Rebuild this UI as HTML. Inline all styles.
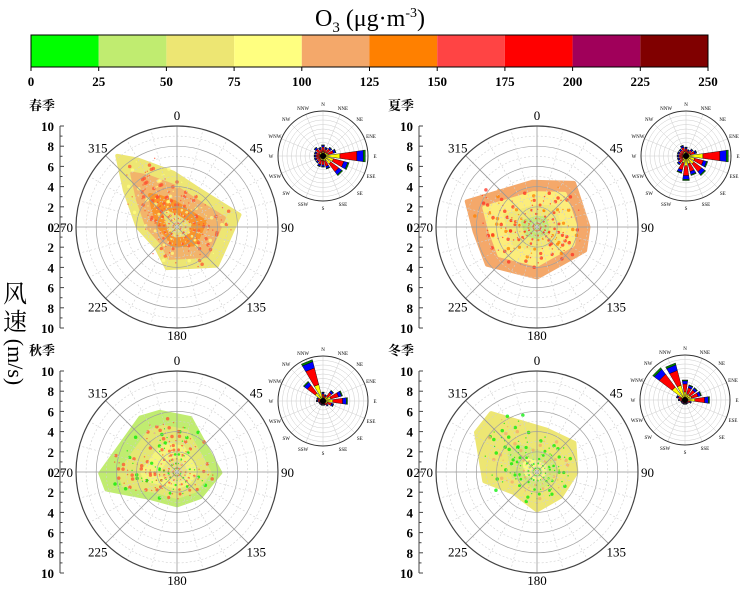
<!DOCTYPE html>
<html><head><meta charset="utf-8"><style>
html,body{margin:0;padding:0;background:#fff;width:748px;height:589px;overflow:hidden}
svg{display:block;font-family:"Liberation Serif","Noto Serif CJK SC",serif}
</style></head><body>
<svg id="c" width="748" height="589" viewBox="0 0 748 589"></svg>
<script>
const cbBreaks=[0,25,50,75,100,125,150,175,200,225,250];
const cbColors=["#00ff00","#c0ec70","#ede673","#ffff80","#f4a86a","#ff8000","#ff4444","#ff0000","#a0005a","#800000"];
const dirLabels=["N","NNE","NE","ENE","E","ESE","SE","SSE","S","SSW","SW","WSW","W","WNW","NW","NNW"];
const angleLabels=[0,45,90,135,180,225,270,315];
const speedTicks=[10,8,6,4,2,0,2,4,6,8,10];
const seasonNames=["春季","夏季","秋季","冬季"];
// hulls: [angle deg, speed m/s]
const hullSpring=[[320,9.2],[330,7.7],[356,5.4],[32,4.3],[79,6.3],[108,5.2],[134,5.5],[194,4.2],[224,2.9],[270,3.9],[305,6.3]];
const hullSummer=[[290,7.4],[354,4.5],[40,5.7],[90,5.1],[116,5.3],[129,4.7],[180,5.0],[233,6.2],[266,6.2]];
const hullAutumn=[[269,7.6],[326,6.5],[344,6.2],[14,5.5],[91,4.3],[137,3.4],[180,3.3],[226,3.7],[256,7.2]];
const hullWinter=[[303,7.2],[322,7.4],[13,4.3],[52,4.7],[91,3.9],[136,3.4],[180,3.8],[228,3.1],[260,5.3]];
// wind rose totals per direction (ring units 0-10)
const roseSpring=[2.5,2,2.5,3,9.5,6,5.5,3,2.5,2.5,2,2,2,2,2.5,2];
const roseSummer=[2,1.5,2,2.5,9.5,5,5.5,4.5,5.5,4,2.5,2,2,2,2,2.5];
const roseAutumn=[2,1.5,3,4.5,5.5,2.5,1.5,1,1,1,1,1,1.5,1.5,5.5,9.5];
const roseWinter=[4.5,3.5,3.5,3.8,5.5,1.5,1,1,1,1,1,1,1.5,2,9,8.5];
const NS="http://www.w3.org/2000/svg";
const svg=document.getElementById('c');
function mk(t,a,p){const e=document.createElementNS(NS,t);for(const k in a)e.setAttribute(k,a[k]);(p||svg).appendChild(e);return e;}
const tt=mk('text',{x:370,y:26,'font-size':24,'text-anchor':'middle'});


tt.innerHTML='O<tspan font-size="15" dy="6">3</tspan><tspan dy="-6"> (μg·m</tspan><tspan font-size="14" dy="-9">-3</tspan><tspan dy="9">)</tspan>';
const cbX=31,cbW=677,cbY=35,cbH=32;
const cbx=v=>cbX+v/250*cbW;
for(let i=0;i<cbColors.length;i++){
 const r=mk('rect',{x:cbx(cbBreaks[i]),y:cbY,width:cbx(cbBreaks[i+1])-cbx(cbBreaks[i]),height:cbH,fill:cbColors[i]});
 
 
}
mk('rect',{x:cbX,y:cbY,width:cbW,height:cbH,fill:'none',stroke:'#000','stroke-width':1});
cbBreaks.forEach(v=>{mk('line',{x1:cbx(v),y1:cbY+cbH,x2:cbx(v),y2:cbY+cbH+4,stroke:'#000'});
 const t=mk('text',{x:cbx(v),y:86,'font-size':13,'font-weight':'bold','text-anchor':'middle'});t.textContent=v;
 
 });
const yt=mk('text',{x:15,y:302,'font-size':24,'text-anchor':'middle'});yt.textContent='风';


mk('text',{x:15,y:330,'font-size':24,'text-anchor':'middle'}).textContent='速';
mk('text',{x:0,y:0,'font-size':22,'text-anchor':'middle',transform:'translate(8,362) rotate(90)'}).textContent='(m/s)';

const R=101;
function panel(cx,cy,ax,hull,name,nx,ny,rose,rcx,rcy,pal){
 const g=mk('g',{});
 
 
 const nm=mk('text',{x:nx,y:ny,'font-size':13,'font-weight':'bold'},g);nm.textContent=name;
 
 
 const sc=R/10;
 const pt=(a,s)=>[cx+Math.sin(a*Math.PI/180)*s*sc,cy-Math.cos(a*Math.PI/180)*s*sc];
 const layer=(f,col,op)=>{const d=hull.map(h=>pt(h[0],h[1]*f).join(',')).join(' ');
   const p=mk('polygon',{points:d,fill:col,opacity:op,'stroke-linejoin':'round',stroke:col,'stroke-width':4},g);};
 layer(1,pal[0],1);layer(0.75,pal[1],0.8);layer(0.45,pal[2],0.6);layer(0.2,pal[3],0.9);
 let k=0;
 hull.forEach((h,i)=>{for(let s=0.4;s<h[1]*0.85;s+=0.45){for(let da=-16;da<=16;da+=8){k++;
   if(k%2===0){const q=pt(h[0]+da+(k%7)*2,s);mk('circle',{cx:q[0],cy:q[1],r:0.7+(k%4)*0.35*Math.min(s,3)/2,fill:pal[4+(k%3===0?1:0)],opacity:0.75},g);}}}});
 for(let s=1;s<=9;s++)mk('circle',{cx,cy,r:s*sc,fill:'none',stroke:s%2?'#d0d0d0':'#a0a0a0','stroke-width':s%2?0.6:0.7,'stroke-dasharray':s%2?'2,2':'none'},g);
 for(let a=0;a<360;a+=15){const q=pt(a,10);mk('line',{x1:cx,y1:cy,x2:q[0],y2:q[1],stroke:a%45?'#d0d0d0':'#999','stroke-width':a%45?0.6:0.8,'stroke-dasharray':a%45?'2,2':'none'},g);}
 mk('circle',{cx,cy,r:R,fill:'none',stroke:'#444','stroke-width':1.2},g);
 angleLabels.forEach(a=>{const q=pt(a,11.1);let anc='middle',dy=5;
   if(a===90){anc='start';q[0]=cx+R+3;} if(a===270){anc='end';q[0]=cx-R-3;}
   if(a===0)q[1]=cy-R-6; if(a===180)q[1]=cy+R+12;
   const t=mk('text',{x:q[0],y:q[1]+(a===0||a===180?0:dy),'font-size':13,'text-anchor':anc},g);t.textContent=a;
   });
 mk('line',{x1:ax,y1:cy-R,x2:ax,y2:cy+R,stroke:'#444'},g);
 for(let i=0;i<=20;i++){const y=cy-R+i*sc;mk('line',{x1:ax,y1:y,x2:ax+(i%2?2.5:4),y2:y,stroke:'#444'},g);}
 speedTicks.forEach((v,i)=>{const t=mk('text',{x:ax-6,y:cy-R+i*2*sc+5,'font-size':13,'font-weight':'bold','text-anchor':'end'},g);t.textContent=v;
   });
 const rr=45,rs=rr/10;
 const rg=mk('g',{},g);
 for(let s=1;s<=9;s++)mk('circle',{cx:rcx,cy:rcy,r:s*rs,fill:'none',stroke:'#ccc','stroke-width':0.5},rg);
 for(let i=0;i<16;i++){const a=i*22.5*Math.PI/180;mk('line',{x1:rcx,y1:rcy,x2:rcx+Math.sin(a)*rr,y2:rcy-Math.cos(a)*rr,stroke:'#ccc','stroke-width':0.5},rg);}
 const segs=[[0,0.4,'#ffff00'],[0.4,0.8,'#ff0000'],[0.8,0.95,'#0000ff'],[0.95,1,'#008000']];
 rose.forEach((L,i)=>{const a0=(i*22.5-8)*Math.PI/180,a1=(i*22.5+8)*Math.PI/180;
   segs.forEach(sg=>{const r0=L*sg[0]*rs,r1=L*sg[1]*rs;
    const d=`M${rcx+Math.sin(a0)*r0},${rcy-Math.cos(a0)*r0}L${rcx+Math.sin(a0)*r1},${rcy-Math.cos(a0)*r1}L${rcx+Math.sin(a1)*r1},${rcy-Math.cos(a1)*r1}L${rcx+Math.sin(a1)*r0},${rcy-Math.cos(a1)*r0}Z`;
    const p=mk('path',{d,fill:sg[2],stroke:'#000','stroke-width':0.4},rg);
    });});
 mk('circle',{cx:rcx,cy:rcy,r:3,fill:'#000'},rg);
 mk('circle',{cx:rcx,cy:rcy,r:rr,fill:'none',stroke:'#333','stroke-width':1},rg);
 dirLabels.forEach((l,i)=>{const a=i*22.5*Math.PI/180;const t=mk('text',{x:rcx+Math.sin(a)*(rr+7),y:rcy-Math.cos(a)*(rr+7)+2,'font-size':5,'text-anchor':'middle'},rg);t.textContent=l;});
}
panel(177,227,60,hullSpring,seasonNames[0],29,110,roseSpring,323,156,["#ede673","#f4a86a","#ff8000","#ede673","#ff5030","#ffff80"]);
panel(537,227,419,hullSummer,seasonNames[1],388,110,roseSummer,686,156,["#f4a86a","#ffff80","#ede673","#c0ec70","#ff3020","#ff8000"]);
panel(177,472,60,hullAutumn,seasonNames[2],29,355,roseAutumn,323,401,["#c0ec70","#ede673","#ffff80","#ede673","#ff5030","#00ee00"]);
panel(537,472,419,hullWinter,seasonNames[3],388,355,roseWinter,685,400,["#ede673","#ede673","#c8e878","#ffff80","#00ee00","#f4a86a"]);
</script>
</body></html>
